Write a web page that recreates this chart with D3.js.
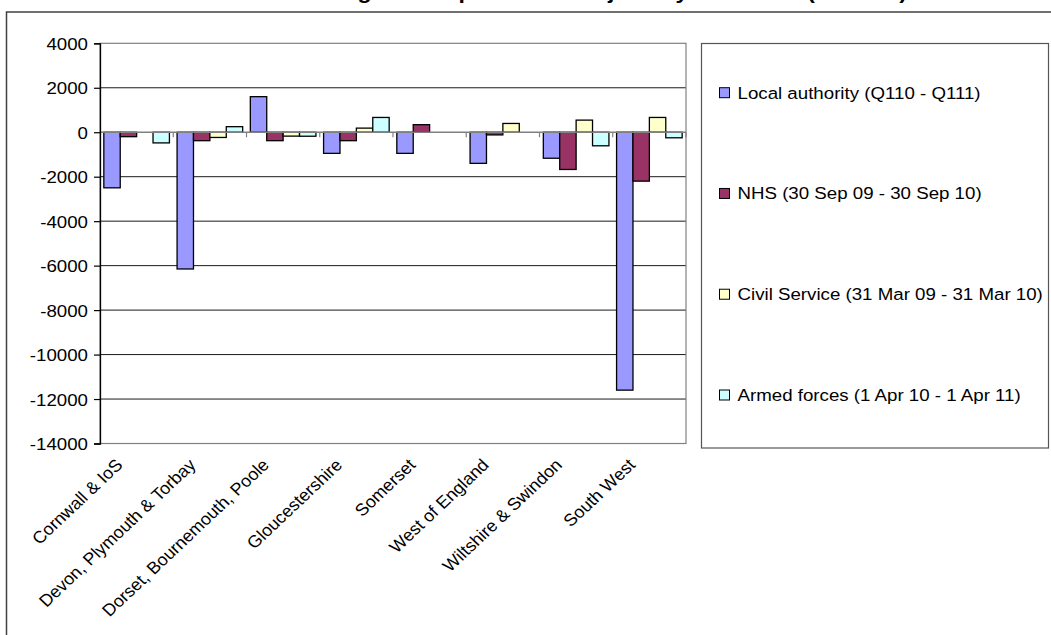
<!DOCTYPE html>
<html>
<head>
<meta charset="utf-8">
<script src="https://cdn.jsdelivr.net/npm/d3@7"></script>
<style>
  html, body { margin: 0; padding: 0; background: #fff; }
  #chart { width: 1051px; height: 635px; }
  text { font-family: "Liberation Sans", Arial, sans-serif; fill: #000; }
</style>
</head>
<body>
<div id="chart"></div>
<script>
// Data
const titleText = "Change in the public sector jobs by local area (number)";
const categories = [
  "Cornwall & IoS",
  "Devon, Plymouth & Torbay",
  "Dorset, Bournemouth, Poole",
  "Gloucestershire",
  "Somerset",
  "West of England",
  "Wiltshire & Swindon",
  "South West"
];
const seriesNames = [
  "Local authority (Q110 - Q111)",
  "NHS (30 Sep 09 - 30 Sep 10)",
  "Civil Service (31 Mar 09 - 31 Mar 10)",
  "Armed forces (1 Apr 10 - 1 Apr 11)"
];
const localAuthority = [-2500, -6150, 1600, -950, -950, -1400, -1170, -11600];
const nhs = [-200, -380, -380, -380, 340, -120, -1675, -2200];
const civilService = [0, -235, -175, 185, 0, 395, 545, 665];
const armedForces = [-480, 250, -180, 665, 0, 0, -610, -250];
const seriesColors = ["#9999ff", "#993366", "#ffffcc", "#ccffff"];
const yTicks = [4000, 2000, 0, -2000, -4000, -6000, -8000, -10000, -12000, -14000];

function draw() {
  d3.select("#chart").selectAll("*").remove();

  const W = 1051, H = 635;
  const stretch = 1.1;           // text in the reference is a bit wide
  const plot = { left: 100, right: 686, top: 43.3, bottom: 443.5 };

  const svg = d3.select("#chart")
    .append("svg")
    .attr("width", W)
    .attr("height", H)
    .attr("viewBox", `0 0 ${W} ${H}`);

  const seriesValues = [localAuthority, nhs, civilService, armedForces];
  const rows = categories.map((cat, i) => ({
    cat,
    values: seriesNames.map((s, j) => ({ series: s, value: seriesValues[j][i] }))
  }));

  const x0 = d3.scaleBand()
    .domain(categories)
    .range([plot.left, plot.right])
    .padding(0);
  const gap = x0.step() - 4 * 16.4;
  const x1 = d3.scaleBand()
    .domain(seriesNames)
    .range([gap / 2, x0.step() - gap / 2]);

  const y = d3.scaleLinear()
    .domain([-14000, 4000])
    .range([plot.bottom, plot.top]);

  const color = d3.scaleOrdinal().domain(seriesNames).range(seriesColors);

  // Title - only its lower edge shows above the frame, as in the reference
  svg.append("text")
    .attr("transform", `translate(300, -1.5) scale(1.15,1)`)
    .style("font-size", "20px")
    .style("font-weight", "bold")
    .text(titleText);

  // Outer chart border (runs off the right and bottom)
  svg.append("rect")
    .attr("x", 6.5).attr("y", 12)
    .attr("width", W + 10).attr("height", H + 10)
    .attr("fill", "none")
    .attr("stroke", "#404040")
    .attr("stroke-width", 1.5);

  // Gridlines
  svg.append("g")
    .selectAll("line")
    .data(yTicks.filter(d => d !== 0 && d !== 4000 && d !== -14000))
    .join("line")
    .attr("x1", plot.left).attr("x2", plot.right)
    .attr("y1", d => y(d)).attr("y2", d => y(d))
    .attr("stroke", "#1a1a1a")
    .attr("stroke-width", 1);

  // Plot area border
  svg.append("rect")
    .attr("x", plot.left).attr("y", y(4000))
    .attr("width", plot.right - plot.left)
    .attr("height", y(-14000) - y(4000))
    .attr("fill", "none")
    .attr("stroke", "#808080")
    .attr("stroke-width", 1.2);

  // Bars
  svg.append("g")
    .selectAll("g")
    .data(rows)
    .join("g")
    .attr("transform", d => `translate(${x0(d.cat)},0)`)
    .selectAll("rect")
    .data(d => d.values.filter(v => v.value !== 0))
    .join("rect")
    .attr("x", d => x1(d.series))
    .attr("width", x1.bandwidth())
    .attr("y", d => y(Math.max(0, d.value)))
    .attr("height", d => Math.abs(y(d.value) - y(0)))
    .attr("fill", d => color(d.series))
    .attr("stroke", "#000")
    .attr("stroke-width", 1.3);

  // Category axis along zero line
  const xAxis = svg.append("g");
  xAxis.append("line")
    .attr("x1", plot.left).attr("x2", plot.right)
    .attr("y1", y(0)).attr("y2", y(0))
    .attr("stroke", "#808080")
    .attr("stroke-width", 1.3);
  xAxis.selectAll("line.tick")
    .data(categories)
    .join("line")
    .attr("class", "tick")
    .attr("x1", d => x0(d) + x0.step())
    .attr("x2", d => x0(d) + x0.step())
    .attr("y1", y(0)).attr("y2", y(0) + 5)
    .attr("stroke", "#808080")
    .attr("stroke-width", 1.2);

  // Y axis
  const yAxis = d3.axisLeft(y)
    .tickValues(yTicks)
    .tickSize(6)
    .tickFormat(d => String(d));
  const yg = svg.append("g")
    .attr("transform", `translate(${plot.left},0)`)
    .call(yAxis);
  yg.select(".domain").attr("stroke", "#000").attr("stroke-width", 1.3);
  yg.selectAll(".tick line").attr("stroke", "#000").attr("stroke-width", 1.2);
  yg.selectAll(".tick text")
    .attr("x", null).attr("dy", null)
    .attr("transform", `translate(-12,6) scale(${stretch},1)`)
    .style("font-size", "17px")
    .style("font-family", "'Liberation Sans', Arial, sans-serif")
    .attr("fill", "#000");

  // Category labels, rotated
  svg.append("g")
    .selectAll("text")
    .data(categories)
    .join("text")
    .attr("transform", d => `translate(${x0(d) + x0.bandwidth() / 2 - 13}, 466) scale(1.06,1) rotate(-45)`)
    .attr("text-anchor", "end")
    .style("font-size", "17px")
    .text(d => d);

  // Legend
  const legendBox = { x: 701.5, y: 43.5, w: 347, h: 404.5 };
  svg.append("rect")
    .attr("x", legendBox.x).attr("y", legendBox.y)
    .attr("width", legendBox.w).attr("height", legendBox.h)
    .attr("fill", "#fff")
    .attr("stroke", "#555")
    .attr("stroke-width", 1.2);

  const legendY = d3.scalePoint()
    .domain(seriesNames)
    .range([92.7, 395]);

  const items = svg.append("g")
    .selectAll("g")
    .data(seriesNames)
    .join("g")
    .attr("transform", d => `translate(719.5, ${legendY(d)})`);
  items.append("rect")
    .attr("x", 0).attr("y", -5)
    .attr("width", 10).attr("height", 10)
    .attr("fill", d => color(d))
    .attr("stroke", "#000")
    .attr("stroke-width", 1);
  items.append("text")
    .attr("transform", `translate(18, 6) scale(${stretch},1)`)
    .style("font-size", "17px")
    .text(d => d);
}

draw();
</script>
</body>
</html>
